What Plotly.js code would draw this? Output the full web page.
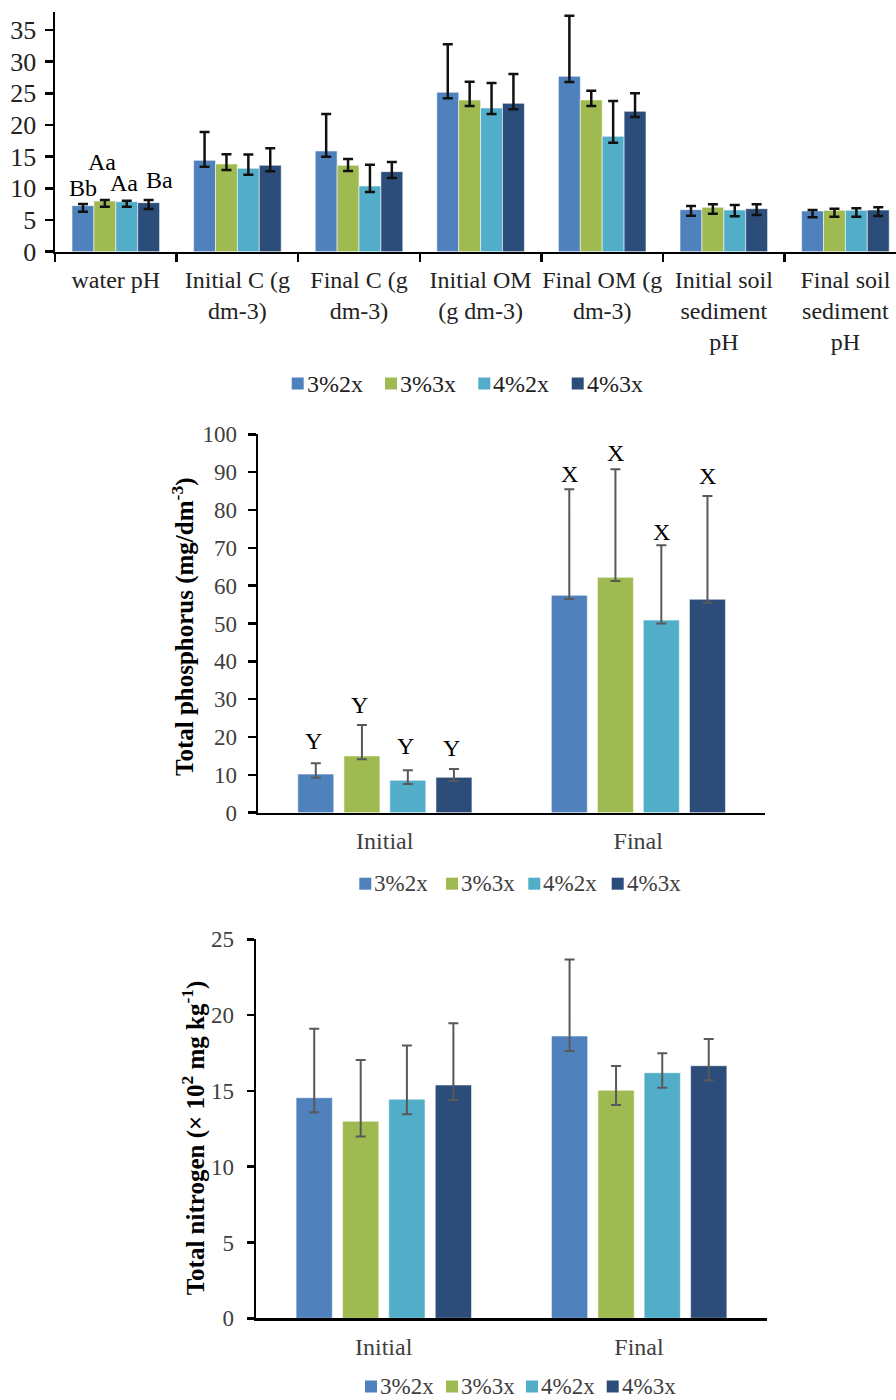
<!DOCTYPE html>
<html><head><meta charset="utf-8">
<script src="https://cdn.plot.ly/plotly-3.0.1.min.js"></script>
<style>html,body{margin:0;padding:0;background:#fff}#chart{width:896px;height:1400px}</style>
</head><body><div id="chart"></div>
<script>
// ---------- DATA ----------
const series = ['3%2x', '3%3x', '4%2x', '4%3x'];
const colors = ['#4F81BD', '#9FBA50', '#52ADC8', '#2C4C79'];

// Chart 1
const cats1 = ['water pH', 'Initial C (g<br>dm-3)', 'Final C (g<br>dm-3)', 'Initial OM<br>(g dm-3)',
  'Final OM (g<br>dm-3)', 'Initial soil<br>sediment<br>pH', 'Final soil<br>sediment<br>pH'];
const c1_3p2x = [7.27, 14.42, 15.9, 25.16, 27.69, 6.64, 6.43];
const c1_3p3x = [8.0, 13.85, 13.64, 23.95, 23.95, 7.0, 6.53];
const c1_4p2x = [7.9, 13.16, 10.37, 22.69, 18.21, 6.58, 6.53];
const c1_4p3x = [7.74, 13.64, 12.64, 23.42, 22.16, 6.79, 6.58];
const c1_up_3p2x = [0.26, 4.48, 5.84, 7.58, 9.57, 0.57, 0.15];
const c1_up_3p3x = [0.16, 1.52, 1.0, 2.89, 1.47, 0.48, 0.26];
const c1_up_4p2x = [0.15, 2.2, 3.37, 3.94, 5.58, 0.79, 0.32];
const c1_up_4p3x = [0.42, 2.68, 1.52, 4.63, 2.84, 0.69, 0.42];
const c1_dn_3p2x = [0.95, 1.0, 0.9, 0.95, 0.9, 0.95, 1.0];
const c1_dn_3p3x = [0.9, 0.95, 0.9, 0.95, 0.95, 1.0, 1.0];
const c1_dn_4p2x = [0.8, 1.0, 0.94, 0.95, 1.0, 1.0, 1.0];
const c1_dn_4p3x = [1.0, 0.95, 1.0, 0.94, 0.89, 1.0, 0.95];
const letters1 = ['Bb', 'Aa', 'Aa', 'Ba'];
const letters1Y = [10.0, 14.2, 10.8, 11.3];

// Chart 2 : Total phosphorus
const cats2 = ['Initial', 'Final'];
const p_3p2x = [10.2, 57.45];
const p_3p3x = [15.0, 62.2];
const p_4p2x = [8.55, 50.9];
const p_4p3x = [9.35, 56.4];
const p_up_3p2x = [2.85, 28.05];
const p_up_3p3x = [8.2, 28.55];
const p_up_4p2x = [2.65, 19.8];
const p_up_4p3x = [2.2, 27.3];
const p_dn_3p2x = [0.95, 0.95];
const p_dn_3p3x = [0.9, 1.0];
const p_dn_4p2x = [0.95, 0.9];
const p_dn_4p3x = [0.95, 0.9];
const lettersP_initial = ['Y', 'Y', 'Y', 'Y'];
const lettersP_initialY = [19.0, 28.5, 17.6, 17.2];
const lettersP_final = ['X', 'X', 'X', 'X'];
const lettersP_finalY = [89.5, 95.1, 74.3, 89.1];

// Chart 3 : Total nitrogen
const cats3 = ['Initial', 'Final'];
const n_3p2x = [14.55, 18.62];
const n_3p3x = [13.0, 15.04];
const n_4p2x = [14.45, 16.2];
const n_4p3x = [15.39, 16.66];
const n_up_3p2x = [4.55, 5.04];
const n_up_3p3x = [4.04, 1.6];
const n_up_4p2x = [3.55, 1.28];
const n_up_4p3x = [4.07, 1.76];
const n_dn_3p2x = [0.96, 0.99];
const n_dn_3p3x = [1.0, 0.97];
const n_dn_4p2x = [0.99, 0.99];
const n_dn_4p3x = [0.99, 0.96];

// ---------- LAYOUT HELPERS ----------
const W = 896, H = 1400;
const px = v => v / W;
const py = v => 1 - v / H;
const FONT = 'Liberation Serif, Times New Roman, serif';

const traces = [];
function addChart(xa, ya, cats, vals, ups, dns, offsets, width, errColor, errThick) {
  for (let i = 0; i < 4; i++) {
    traces.push({
      type: 'bar', xaxis: xa, yaxis: ya, x: cats, y: vals[i], name: series[i], showlegend: false,
      offset: offsets[i], width: width,
      marker: {color: colors[i], line: {color: 'rgba(255,255,255,0.55)', width: 1}},
      error_y: {type: 'data', symmetric: false, array: ups[i], arrayminus: dns[i],
        color: errColor, thickness: errThick, width: 5}
    });
  }
}
const off1 = [-0.36, -0.18, 0.0, 0.18], w1 = 0.18;
const off2 = [-0.343, -0.161, 0.020, 0.202], w2 = 0.142;

addChart('x', 'y', cats1, [c1_3p2x, c1_3p3x, c1_4p2x, c1_4p3x],
  [c1_up_3p2x, c1_up_3p3x, c1_up_4p2x, c1_up_4p3x],
  [c1_dn_3p2x, c1_dn_3p3x, c1_dn_4p2x, c1_dn_4p3x], off1, w1, '#111', 2.5);
addChart('x2', 'y2', cats2, [p_3p2x, p_3p3x, p_4p2x, p_4p3x],
  [p_up_3p2x, p_up_3p3x, p_up_4p2x, p_up_4p3x],
  [p_dn_3p2x, p_dn_3p3x, p_dn_4p2x, p_dn_4p3x], off2, w2, '#595959', 2);
addChart('x3', 'y3', cats3, [n_3p2x, n_3p3x, n_4p2x, n_4p3x],
  [n_up_3p2x, n_up_3p3x, n_up_4p2x, n_up_4p3x],
  [n_dn_3p2x, n_dn_3p3x, n_dn_4p2x, n_dn_4p3x], off2, w2, '#595959', 2);

const annotations = [];
const shapes = [];

// significance letters
const shift1 = [0, -3, -3, 11];
letters1.forEach((t, i) => annotations.push({xref: 'x', yref: 'y', x: off1[i] + w1 / 2, y: letters1Y[i],
  text: t, showarrow: false, xshift: shift1[i], xanchor: 'center', yanchor: 'middle', font: {family: FONT, size: 24, color: '#000'}}));
lettersP_initial.forEach((t, i) => annotations.push({xref: 'x2', yref: 'y2', x: off2[i] + w2 / 2, y: lettersP_initialY[i],
  text: t, showarrow: false, xshift: -2, xanchor: 'center', yanchor: 'middle', font: {family: FONT, size: 24, color: '#000'}}));
lettersP_final.forEach((t, i) => annotations.push({xref: 'x2', yref: 'y2', x: 1 + off2[i] + w2 / 2, y: lettersP_finalY[i],
  text: t, showarrow: false, xshift: 0, xanchor: 'center', yanchor: 'middle', font: {family: FONT, size: 24, color: '#000'}}));

// y titles
annotations.push({xref: 'paper', yref: 'paper', x: px(183.3), y: py(626.7), xanchor: 'center', yanchor: 'middle',
  textangle: -90, showarrow: false,
  text: '<b>Total phosphorus (mg/dm<sup>-3</sup>)</b>', font: {family: FONT, size: 25, color: '#000'}});
annotations.push({xref: 'paper', yref: 'paper', x: px(193.3), y: py(1138), xanchor: 'center', yanchor: 'middle',
  textangle: -90, showarrow: false,
  text: '<b>Total nitrogen (× 10<sup>2</sup> mg kg<sup>-1</sup>)</b>', font: {family: FONT, size: 25, color: '#000'}});

// legends (drawn as swatches + labels)
function addLegend(lefts, cy, size, color) {
  lefts.forEach((l, i) => {
    shapes.push({type: 'rect', xref: 'paper', yref: 'paper', x0: px(l), x1: px(l + 12),
      y0: py(cy + 6), y1: py(cy - 6), fillcolor: colors[i], line: {width: 0}});
    annotations.push({xref: 'paper', yref: 'paper', x: px(l + 14), y: py(cy), xanchor: 'left', yanchor: 'middle',
      text: series[i], showarrow: false, borderpad: 0, font: {family: FONT, size: size, color: color}});
  });
}
addLegend([291.7, 385, 478.3, 571.7], 383.5, 24, '#222');
addLegend([359.3, 446, 528.3, 611.7], 883.7, 23, '#404040');
addLegend([365, 446, 526, 606.7], 1386.5, 23, '#404040');

const axBase = {showgrid: false, zeroline: false, showline: true, linecolor: '#000', linewidth: 2.5, fixedrange: true};

const layout = {
  width: W, height: H, margin: {l: 0, r: 0, t: 0, b: 0}, paper_bgcolor: '#fff', plot_bgcolor: 'rgba(0,0,0,0)',
  font: {family: FONT}, barmode: 'overlay', showlegend: false,
  xaxis: Object.assign({}, axBase, {domain: [px(55), 1], range: [-0.5, 6.416], type: 'category', anchor: 'y',
    ticks: 'outside', tickson: 'boundaries', ticklen: 8, tickwidth: 2.5, tickcolor: '#000', tickangle: 0,
    ticklabelstandoff: 5, tickfont: {family: FONT, size: 24, color: '#222'}}),
  yaxis: Object.assign({}, axBase, {domain: [py(251.7), py(12)], range: [0, 37.84], anchor: 'x',
    tick0: 0, dtick: 5, ticks: 'outside', ticklen: 8, tickwidth: 2.5, tickcolor: '#000', ticklabelstandoff: 3,
    tickfont: {family: FONT, size: 26, color: '#222'}}),
  xaxis2: Object.assign({}, axBase, {domain: [px(258), px(765)], range: [-0.5, 1.5], type: 'category', anchor: 'y2',
    ticks: '', tickangle: 0, ticklabelstandoff: 5, tickfont: {family: FONT, size: 24, color: '#404040'}}),
  yaxis2: Object.assign({}, axBase, {domain: [py(812.7), py(434.3)], range: [0, 100], anchor: 'x2',
    tick0: 0, dtick: 10, ticks: 'outside', ticklen: 8, tickwidth: 2.5, tickcolor: '#000', ticklabelstandoff: 6,
    tickfont: {family: FONT, size: 23, color: '#404040'}}),
  xaxis3: Object.assign({}, axBase, {domain: [px(256), px(766.7)], range: [-0.5, 1.5], type: 'category', anchor: 'y3',
    ticks: '', tickangle: 0, ticklabelstandoff: 5, tickfont: {family: FONT, size: 24, color: '#404040'}}),
  yaxis3: Object.assign({}, axBase, {domain: [py(1318.3), py(939.3)], range: [0, 25], anchor: 'x3',
    tick0: 0, dtick: 5, ticks: 'outside', ticklen: 7, tickwidth: 2.5, tickcolor: '#000', ticklabelstandoff: 8,
    tickfont: {family: FONT, size: 23, color: '#404040'}}),
  annotations: annotations, shapes: shapes
};

Plotly.newPlot('chart', traces, layout, {displayModeBar: false, staticPlot: true});
</script></body></html>
